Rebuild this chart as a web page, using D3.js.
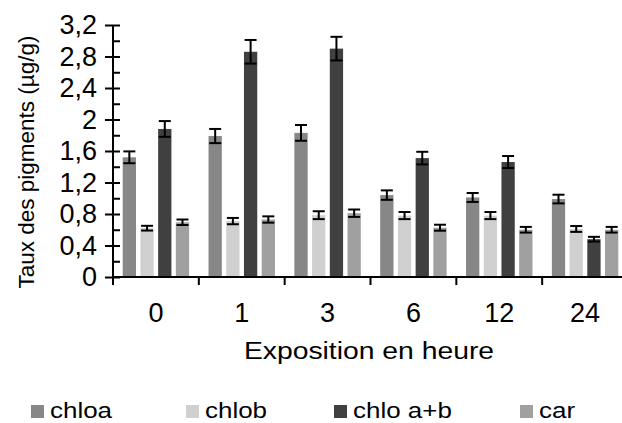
<!DOCTYPE html>
<html>
<head>
<meta charset="utf-8">
<script src="https://cdn.jsdelivr.net/npm/d3@7"></script>
<style>
  body { margin: 0; background: #fff; }
  svg text { font-family: "Liberation Sans", Arial, sans-serif; fill: #000; }
</style>
</head>
<body>
<svg id="chart" width="622" height="423"></svg>
<script>
// values (µg/g)
var categories = ['0', '1', '3', '6', '12', '24'];
var seriesNames = ['chloa', 'chlob', 'chlo a+b', 'car'];
var chloa = [1.52, 1.79, 1.83, 1.04, 1.01, 0.99];
var chloaErr = [0.075, 0.09, 0.1, 0.06, 0.057, 0.055];
var chlob = [0.62, 0.71, 0.785, 0.78, 0.78, 0.61];
var chlobErr = [0.03, 0.04, 0.05, 0.045, 0.045, 0.037];
var chloab = [1.88, 2.86, 2.9, 1.51, 1.46, 0.48];
var chloabErr = [0.1, 0.15, 0.15, 0.08, 0.076, 0.03];
var car = [0.695, 0.73, 0.81, 0.626, 0.6, 0.6];
var carErr = [0.035, 0.04, 0.047, 0.038, 0.036, 0.036];
var yTicks = [0, 0.4, 0.8, 1.2, 1.6, 2, 2.4, 2.8, 3.2];
var yMinorTicks = [0, 0.2, 0.4, 0.6, 0.8, 1, 1.2, 1.4, 1.6, 1.8, 2, 2.2, 2.4, 2.6, 2.8, 3, 3.2];

var colors = ['#878787', '#d0d0d0', '#404040', '#a0a0a0'];

var values = [chloa, chlob, chloab, car];
var errors = [chloaErr, chlobErr, chloabErr, carErr];

var rows = [];
categories.forEach(function(c, i) {
  seriesNames.forEach(function(s, j) {
    rows.push({ cat: c, series: s, idx: j, v: values[j][i], e: errors[j][i] });
  });
});

var svg = d3.select('#chart');

var x0 = d3.scaleBand().domain(categories).range([113, 628]).padding(0);
var x1 = d3.scaleBand().domain(seriesNames)
  .range([9.7, x0.bandwidth() - 9.7])
  .paddingInner(0.25).paddingOuter(0);
var y = d3.scaleLinear().domain([0, 3.2]).range([277, 25]);

function fmt(v) { return String(+v.toFixed(1)).replace('.', ','); }

// bars
svg.append('g').selectAll('rect')
  .data(rows)
  .enter().append('rect')
  .attr('x', function(d) { return x0(d.cat) + x1(d.series); })
  .attr('y', function(d) { return y(d.v); })
  .attr('width', x1.bandwidth())
  .attr('height', function(d) { return y(0) - y(d.v); })
  .style('fill', function(d) { return colors[d.idx]; });

// error bars
var eb = svg.append('g').selectAll('g')
  .data(rows)
  .enter().append('g')
  .attr('transform', function(d) {
    return 'translate(' + (x0(d.cat) + x1(d.series) + x1.bandwidth() / 2) + ',0)';
  })
  .style('stroke', '#000')
  .style('stroke-width', 2.2);

eb.append('line')
  .attr('x1', 0).attr('x2', 0)
  .attr('y1', function(d) { return y(d.v + d.e); })
  .attr('y2', function(d) { return y(d.v - d.e); });
eb.append('line')
  .attr('x1', -6).attr('x2', 6)
  .attr('y1', function(d) { return y(d.v + d.e); })
  .attr('y2', function(d) { return y(d.v + d.e); });
eb.append('line')
  .attr('x1', -6).attr('x2', 6)
  .attr('y1', function(d) { return y(d.v - d.e); })
  .attr('y2', function(d) { return y(d.v - d.e); });

// y axis: major ticks outside with labels, all ticks inside
var yAxis = svg.append('g')
  .attr('transform', 'translate(113,0)')
  .call(d3.axisLeft(y).tickValues(yTicks).tickSize(8).tickPadding(8).tickFormat(fmt));
svg.append('g')
  .attr('transform', 'translate(113,0)')
  .call(d3.axisRight(y).tickValues(yMinorTicks).tickSize(7).tickFormat(''))
  .select('.domain').remove();

yAxis.selectAll('text').style('font-size', '27px');
yAxis.selectAll('line, .domain').style('stroke', '#000').style('stroke-width', 2);
svg.selectAll('g line').filter(function() { return !this.style.stroke; })
  .style('stroke', '#000').style('stroke-width', 2);
yAxis.select('.domain').attr('d', 'M0,' + y(3.2) + 'V' + y(0));

// x axis
var xAxis = svg.append('g')
  .attr('transform', 'translate(0,277)')
  .call(d3.axisBottom(x0).tickSize(0).tickPadding(26));
xAxis.select('.domain').attr('d', 'M113,0H622').style('stroke', '#000').style('stroke-width', 2);
xAxis.selectAll('text').style('font-size', '27px');

var bounds = categories.map(function(c) { return x0(c); }).concat([x0.range()[1]]);
xAxis.selectAll('.bound')
  .data(bounds)
  .enter().append('line')
  .attr('class', 'bound')
  .attr('x1', function(d) { return d; }).attr('x2', function(d) { return d; })
  .attr('y1', 0).attr('y2', 8)
  .style('stroke', '#000').style('stroke-width', 2);

// axis titles (the reference text is a bit wider than it is tall)
svg.append('g')
  .attr('transform', 'translate(369,359) scale(1.18,1)')
  .append('text')
  .attr('text-anchor', 'middle')
  .style('font-size', '24px')
  .text('Exposition en heure');

svg.append('text')
  .attr('transform', 'translate(34,162) rotate(-90)')
  .attr('text-anchor', 'middle')
  .style('font-size', '22.5px')
  .text('Taux des pigments (µg/g)');

// legend
var legendX = [31, 186, 334, 520];
var lg = svg.append('g').selectAll('g')
  .data(seriesNames)
  .enter().append('g')
  .attr('transform', function(d, i) { return 'translate(' + legendX[i] + ',0)'; });
lg.append('rect')
  .attr('x', 0).attr('y', 405)
  .attr('width', 13).attr('height', 13)
  .style('fill', function(d, i) { return colors[i]; });
lg.append('g')
  .attr('transform', 'translate(19,418) scale(1.18,1)')
  .append('text')
  .style('font-size', '22px')
  .text(function(d) { return d; });
</script>
</body>
</html>
